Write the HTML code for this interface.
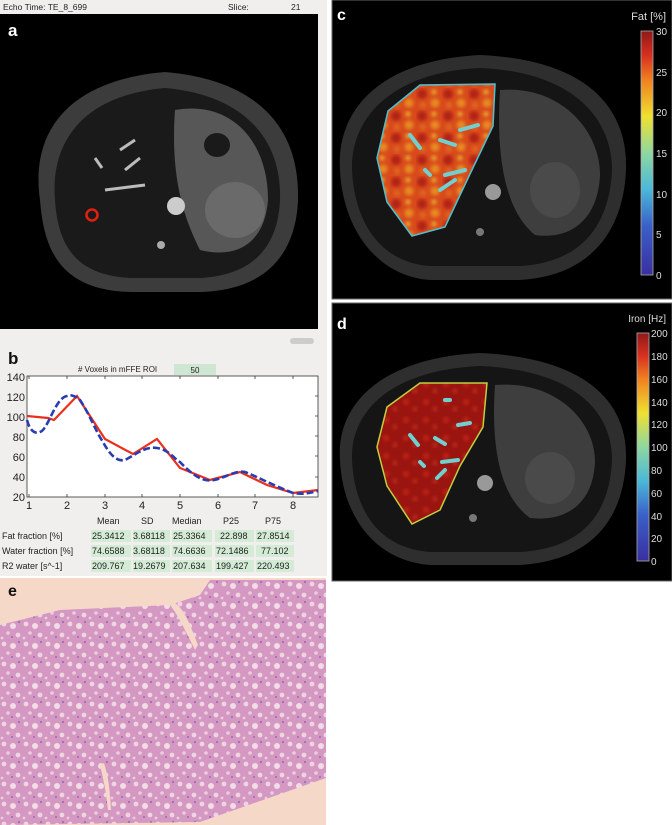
<!DOCTYPE html>
<html><head><meta charset="utf-8"><style>
html,body{margin:0;padding:0;background:#fff;width:672px;height:825px;overflow:hidden;font-family:"Liberation Sans",sans-serif;}
</style></head><body>
<svg width="672" height="825" viewBox="0 0 672 825" xmlns="http://www.w3.org/2000/svg" font-family="Liberation Sans, sans-serif">
<defs>
<linearGradient id="cbfat" x1="0" y1="1" x2="0" y2="0">
<stop offset="0" stop-color="#3a2fa0"/><stop offset="0.2" stop-color="#3a5fc8"/><stop offset="0.35" stop-color="#4ab8d8"/><stop offset="0.5" stop-color="#8ed8a0"/><stop offset="0.65" stop-color="#f0e030"/><stop offset="0.8" stop-color="#f08020"/><stop offset="0.9" stop-color="#d83020"/><stop offset="1" stop-color="#901818"/>
</linearGradient>
<filter id="bl"><feGaussianBlur stdDeviation="1.8"/></filter>
<pattern id="fatp" width="26" height="22" patternUnits="userSpaceOnUse">
<rect width="26" height="22" fill="#d84a1c"/>
<g filter="url(#bl)"><circle cx="6" cy="6" r="5" fill="#b02412"/><circle cx="19" cy="15" r="4.5" fill="#e88c22"/><circle cx="18" cy="4" r="2.5" fill="#eab830"/><circle cx="7" cy="17" r="3" fill="#e06a20"/></g>
</pattern>
<pattern id="ironp" width="20" height="18" patternUnits="userSpaceOnUse">
<rect width="20" height="18" fill="#9a1410"/><g filter="url(#bl)"><circle cx="6" cy="6" r="3" fill="#c02818"/><circle cx="15" cy="13" r="2" fill="#c83820"/></g>
</pattern>
<pattern id="histo" width="22" height="20" patternUnits="userSpaceOnUse">
<rect width="22" height="20" fill="#d498c2"/>
<circle cx="4" cy="4" r="2.4" fill="#efd4e2"/><circle cx="13" cy="6" r="3" fill="#f2dce6"/><circle cx="8" cy="13" r="1.8" fill="#ebcedd"/><circle cx="18" cy="15" r="2.4" fill="#efd4e2"/><circle cx="2" cy="18" r="1.4" fill="#ead0de"/><circle cx="19" cy="2" r="1.1" fill="#9a70b0"/><circle cx="12" cy="17" r="0.9" fill="#8a60a8"/>
</pattern>
</defs>

<rect x="0" y="0" width="327" height="576" fill="#f0efee"/>
<text x="3" y="10" font-size="8.5" fill="#222">Echo Time:  TE_8_699</text>
<text x="228" y="10" font-size="8.5" fill="#222">Slice:</text>
<text x="291" y="10" font-size="8.5" fill="#222">21</text>
<rect x="0" y="14" width="318" height="315" fill="#000"/>
<path d="M40,200 C30,130 70,80 165,72 C260,80 300,130 298,200 C296,250 270,290 200,292 L130,292 C60,290 44,250 40,200Z" fill="#3c3c3c"/>
<path d="M55,200 C50,140 85,95 165,88 C245,95 282,140 280,200 C278,245 255,275 200,278 L130,278 C75,275 58,245 55,200Z" fill="#1a1a1a"/>
<path d="M175,110 C230,100 268,140 268,200 C265,240 240,260 200,250 C185,220 170,180 175,110Z" fill="#575757"/>
<ellipse cx="235" cy="210" rx="30" ry="28" fill="#6a6a6a"/>
<ellipse cx="217" cy="145" rx="13" ry="12" fill="#1a1a1a"/>
<ellipse cx="176" cy="206" rx="9" ry="9" fill="#ccc"/>
<ellipse cx="161" cy="245" rx="4" ry="4" fill="#aaa"/>
<path d="M105,190 L145,185 M125,170 L140,158 M95,158 L102,168 M120,150 L135,140" stroke="#bbb" stroke-width="3"/>
<circle cx="92" cy="215" r="5.5" fill="none" stroke="#e02010" stroke-width="2.5"/>
<text x="8" y="36" font-size="17" font-weight="bold" fill="#fff">a</text>
<rect x="290" y="338" width="24" height="6" rx="3" fill="#ccc"/>

<text x="8" y="364" font-size="17" font-weight="bold" fill="#111">b</text>
<text x="78" y="372" font-size="8" fill="#222"># Voxels in mFFE ROI</text>
<rect x="174" y="364" width="42" height="11" fill="#cfe6d2"/>
<text x="195" y="373" font-size="8" fill="#222" text-anchor="middle">50</text>
<rect x="27" y="376" width="291" height="121" fill="#fff" stroke="#333" stroke-width="0.8"/>
<g font-size="11" fill="#222" text-anchor="end">
<text x="25" y="381">140</text><text x="25" y="401">120</text><text x="25" y="421">100</text><text x="25" y="441">80</text><text x="25" y="461">60</text><text x="25" y="481">40</text><text x="25" y="501">20</text>
</g>
<g font-size="11" fill="#222" text-anchor="middle">
<text x="29" y="509">1</text><text x="67" y="509">2</text><text x="105" y="509">3</text><text x="142" y="509">4</text><text x="180" y="509">5</text><text x="218" y="509">6</text><text x="255" y="509">7</text><text x="293" y="509">8</text>
</g>
<g stroke="#333" stroke-width="0.8">
<path d="M29,497v-3M67,497v-3M105,497v-3M142,497v-3M180,497v-3M218,497v-3M255,497v-3M293,497v-3"/>
<path d="M29,376v3M67,376v3M105,376v3M142,376v3M180,376v3M218,376v3M255,376v3M293,376v3"/>
<path d="M318,396h-3M318,416h-3M318,436h-3M318,456h-3M318,477h-3"/>
</g>
<polyline fill="none" stroke="#e8301c" stroke-width="2.2" points="27,416 48,418 54,420 77,396 105,439 133,454 157,439 180,468 210,480 240,472 267,485 293,493 318,490"/>
<path fill="none" stroke="#2a3cb0" stroke-width="2.6" stroke-dasharray="7,3" d="M27,420 C30,432 36,434 40,432 C48,430 55,398 67,396 C72,394 76,397 80,400 C90,415 95,430 103,442 C110,455 117,462 125,460 C135,455 145,446 157,448 C170,450 175,460 180,462 C195,478 205,482 214,480 C225,478 235,470 245,472 C260,478 270,484 293,493 C305,495 312,492 318,491"/>

<g font-size="9" fill="#222">
<text x="97" y="524">Mean</text><text x="141" y="524">SD</text><text x="172" y="524">Median</text><text x="223" y="524">P25</text><text x="265" y="524">P75</text>
<text x="2" y="539">Fat fraction [%]</text><text x="2" y="554">Water fraction [%]</text><text x="2" y="569">R2 water [s^-1]</text>
</g>
<g fill="#d4ecd6">
<rect x="91" y="530" width="40" height="12"/><rect x="133" y="530" width="37" height="12"/><rect x="172" y="530" width="40" height="12"/><rect x="215" y="530" width="39" height="12"/><rect x="256" y="530" width="38" height="12"/>
<rect x="91" y="545" width="40" height="12"/><rect x="133" y="545" width="37" height="12"/><rect x="172" y="545" width="40" height="12"/><rect x="215" y="545" width="39" height="12"/><rect x="256" y="545" width="38" height="12"/>
<rect x="91" y="560" width="40" height="12"/><rect x="133" y="560" width="37" height="12"/><rect x="172" y="560" width="40" height="12"/><rect x="215" y="560" width="39" height="12"/><rect x="256" y="560" width="38" height="12"/>
</g>
<g font-size="9" fill="#222">
<text x="92" y="539">25.3412</text><text x="133" y="539">3.68118</text><text x="173" y="539">25.3364</text><text x="220" y="539">22.898</text><text x="257" y="539">27.8514</text>
<text x="92" y="554">74.6588</text><text x="133" y="554">3.68118</text><text x="173" y="554">74.6636</text><text x="216" y="554">72.1486</text><text x="261" y="554">77.102</text>
<text x="92" y="569">209.767</text><text x="133" y="569">19.2679</text><text x="173" y="569">207.634</text><text x="216" y="569">199.427</text><text x="257" y="569">220.493</text>
</g>

<rect x="332" y="0" width="340" height="299" fill="#000" stroke="#666" stroke-width="1"/>
<path d="M340,170 C336,110 380,60 480,55 C590,60 628,110 626,170 C624,220 600,275 520,280 L430,280 C370,275 342,220 340,170Z" fill="#2e2e2e"/>
<path d="M352,170 C350,120 390,72 480,68 C575,72 612,120 612,170 C610,215 590,262 520,266 L430,266 C375,262 354,215 352,170Z" fill="#151515"/>
<path d="M500,90 C560,85 600,130 600,175 C598,220 570,240 535,235 C510,215 495,170 500,90Z" fill="#3e3e3e"/>
<ellipse cx="555" cy="190" rx="25" ry="28" fill="#4a4a4a"/>
<ellipse cx="493" cy="192" rx="8" ry="8" fill="#999"/>
<ellipse cx="480" cy="232" rx="4" ry="4" fill="#777"/>
<polygon points="388,111 420,85 495,84 493,126 470,174 445,227 412,236 387,202 377,158" fill="url(#fatp)" stroke="#50c0d0" stroke-width="1.5"/>
<path d="M410,135 L420,148 M440,140 L455,145 M460,130 L478,125 M445,175 L465,170 M440,190 L455,180 M425,170 L430,175" stroke="#70d0d0" stroke-width="4" stroke-linecap="round"/>
<text x="337" y="20" font-size="16" font-weight="bold" fill="#fff">c</text>
<text x="666" y="20" font-size="11" fill="#ddd" text-anchor="end">Fat [%]</text>
<rect x="641" y="31" width="12" height="244" fill="url(#cbfat)" stroke="#aaa" stroke-width="0.8"/>
<g font-size="10" fill="#ddd">
<text x="656" y="35">30</text><text x="656" y="76">25</text><text x="656" y="116">20</text><text x="656" y="157">15</text><text x="656" y="198">10</text><text x="656" y="238">5</text><text x="656" y="279">0</text>
</g>

<rect x="332" y="303" width="340" height="278" fill="#000" stroke="#666" stroke-width="1"/>
<path d="M340,460 C336,405 380,358 480,353 C590,358 628,405 626,460 C624,510 600,560 520,565 L430,565 C370,560 342,510 340,460Z" fill="#2e2e2e"/>
<path d="M352,460 C350,412 390,370 480,366 C575,370 612,412 612,460 C610,505 590,548 520,552 L430,552 C375,548 354,505 352,460Z" fill="#151515"/>
<path d="M495,385 C555,380 595,420 595,462 C593,505 565,522 530,518 C505,500 490,460 495,385Z" fill="#3e3e3e"/>
<ellipse cx="550" cy="478" rx="25" ry="26" fill="#4a4a4a"/>
<ellipse cx="485" cy="483" rx="8" ry="8" fill="#999"/>
<ellipse cx="473" cy="518" rx="4" ry="4" fill="#777"/>
<polygon points="387,407 420,383 487,383 483,427 460,466 440,510 412,524 387,486 377,447" fill="url(#ironp)" stroke="#c0d040" stroke-width="1.5"/>
<path d="M410,435 L418,445 M435,438 L445,444 M458,425 L470,423 M442,462 L458,460 M437,478 L445,470 M420,462 L424,466 M445,400 L450,400" stroke="#70d0d0" stroke-width="4" stroke-linecap="round"/>
<text x="337" y="329" font-size="16" font-weight="bold" fill="#fff">d</text>
<text x="666" y="322" font-size="10" fill="#ddd" text-anchor="end">Iron [Hz]</text>
<rect x="637" y="333" width="12" height="228" fill="url(#cbfat)" stroke="#aaa" stroke-width="0.8"/>
<g font-size="10" fill="#ddd">
<text x="651" y="337">200</text><text x="651" y="360">180</text><text x="651" y="383">160</text><text x="651" y="406">140</text><text x="651" y="428">120</text><text x="651" y="451">100</text><text x="651" y="474">80</text><text x="651" y="497">60</text><text x="651" y="520">40</text><text x="651" y="542">20</text><text x="651" y="565">0</text>
</g>

<rect x="0" y="578" width="326" height="247" fill="#f5d8c8"/>
<polygon points="0,625 60,610 170,605 200,595 210,580 326,580 326,778 200,822 0,825" fill="url(#histo)"/>
<path d="M170,605 C178,615 185,630 195,650 L198,645 C190,625 185,610 175,603Z" fill="#f5d8c8"/>
<path d="M100,765 C105,785 107,800 108,810 L111,810 C110,790 108,775 104,763Z" fill="#f5d8c8"/>
<text x="8" y="596" font-size="16" font-weight="bold" fill="#111">e</text>
</svg>
</body></html>
